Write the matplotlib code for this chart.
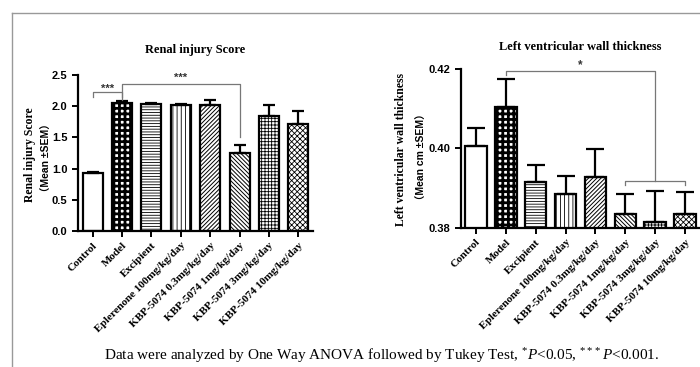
import matplotlib
matplotlib.use("Agg")
import matplotlib.pyplot as plt
from matplotlib.lines import Line2D
import numpy as np

plt.rcParams['mathtext.fontset'] = 'custom'
plt.rcParams['mathtext.rm'] = 'Liberation Serif'
plt.rcParams['mathtext.it'] = 'Liberation Serif:italic'

groups = ["Control", "Model", "Excipient", "Eplerenone 100mg/kg/day",
          "KBP-5074 0.3mg/kg/day", "KBP-5074 1mg/kg/day",
          "KBP-5074 3mg/kg/day", "KBP-5074 10mg/kg/day"]
renal_mean = [0.934, 2.056, 2.035, 2.02, 2.02, 1.255, 1.843, 1.715]
renal_sem = [0.018, 0.02, 0.015, 0.015, 0.08, 0.12, 0.18, 0.205]
lv_mean = [0.4007, 0.4104, 0.3915, 0.3885, 0.3929, 0.3835, 0.3815, 0.3835]
lv_sem = [0.0044, 0.0070, 0.0044, 0.0045, 0.0070, 0.0050, 0.0077, 0.0056]
hatches = [None, '+++', '------', '||||', '////////', '\\\\\\\\\\\\\\\\', '+++++', 'xxxxxx']
hatch_lw = [0.6, 2.0, 0.6, 0.6, 0.7, 0.7, 0.6, 0.6]
renal_ticks = [0.0, 0.5, 1.0, 1.5, 2.0, 2.5]
lv_ticks = [0.38, 0.40, 0.42]

W, H = 700, 367
fig = plt.figure(figsize=(7, 3.67), dpi=100)

def fx(px):
    return px / W

def fy(py):
    return 1 - py / H

serif = 'Liberation Serif'
sans = 'Liberation Sans'
gray = '#777777'

def draw_panel(ax, means, sems, width, capsize):
    x = np.arange(len(means))
    for i, (m, h) in enumerate(zip(means, hatches)):
        hl = hatch_lw[i]
        with plt.rc_context({'hatch.linewidth': hl}):
            b = ax.bar(x[i], m, width=width, facecolor='white', edgecolor='black',
                       linewidth=1.6, hatch=h, zorder=2)
        for p in b.patches:
            if hasattr(p, 'set_hatch_linewidth'):
                p.set_hatch_linewidth(hl)
    ax.errorbar(x, means, yerr=[np.zeros(len(sems)), sems], fmt='none',
                ecolor='black', elinewidth=1.6, capsize=capsize, capthick=1.6, zorder=3)
    ax.set_xlim(-0.5, 7.5)
    for s in ['top', 'right']:
        ax.spines[s].set_visible(False)
    for s in ['left', 'bottom']:
        ax.spines[s].set_linewidth(1.6)
    ax.tick_params(axis='both', width=1.4, length=4, direction='out')
    ax.set_xticks(x)
    ax.set_xticklabels(groups, rotation=45, ha='right', rotation_mode='anchor',
                       fontfamily=serif, fontweight='bold', fontsize=8)
    ax.tick_params(axis='x', pad=3)
    for lab in ax.get_yticklabels():
        lab.set_fontfamily(sans)
        lab.set_fontweight('bold')
        lab.set_fontsize(8)

# Left panel
ax1 = fig.add_axes([fx(78), fy(231), fx(313 - 78), (231 - 75) / H])
ax1.set_ylim(0, 2.5)
ax1.set_yticks(renal_ticks)
ax1.set_yticklabels([f"{t:.1f}" for t in renal_ticks])
draw_panel(ax1, renal_mean, renal_sem, 0.68, 4.5)
ax1.set_title("Renal injury Score", fontfamily=serif, fontweight='bold', fontsize=9, pad=16)
# brackets
ax1.plot([0, 0, 1, 1], [2.15, 2.22, 2.22, 2.15], color=gray, lw=0.9, clip_on=False, zorder=4)
ax1.text(0.5, 2.28, "***", ha='center', va='center', fontsize=8, color='#333333',
         fontfamily=sans, fontweight='bold')
ax1.plot([1, 1, 5, 5], [2.1, 2.35, 2.35, 1.5], color=gray, lw=0.9, clip_on=False, zorder=4)
ax1.text(3, 2.45, "***", ha='center', va='center', fontsize=8, color='#333333',
         fontfamily=sans, fontweight='bold')
fig.text(fx(30), fy(155), "Renal injury Score", rotation=90, ha='center', va='center',
         fontfamily=serif, fontweight='bold', fontsize=8.5)
fig.text(fx(47), fy(158), "（Mean ±SEM）", rotation=90, ha='center', va='center',
         family=[sans, 'Noto Sans CJK SC'], fontweight='bold', fontsize=7.5)

# Right panel
ax2 = fig.add_axes([fx(461), fy(227.7), fx(700 - 461), (227.7 - 69) / H])
ax2.set_ylim(0.38, 0.42)
ax2.set_yticks(lv_ticks)
ax2.set_yticklabels([f"{t:.2f}" for t in lv_ticks])
draw_panel(ax2, lv_mean, lv_sem, 0.72, 6.5)
ax2.set_title("Left ventricular wall thickness", fontfamily=serif, fontweight='bold',
              fontsize=9, pad=14)
ax2.plot([1, 1, 6, 6], [0.4186, 0.4196, 0.4196, 0.3918], color=gray, lw=0.9,
         clip_on=False, zorder=4)
ax2.plot([5, 5, 7, 7], [0.3908, 0.3918, 0.3918, 0.3908], color=gray, lw=0.9,
         clip_on=False, zorder=4)
ax2.text(3.5, 0.4209, "*", ha='center', va='center', fontsize=8.5, color='#333333',
         fontfamily=sans, fontweight='bold')
fig.text(fx(401), fy(149), "Left ventricular wall thickness", rotation=90, ha='center',
         va='center', fontfamily=serif, fontweight='bold', fontsize=8.5)
fig.text(fx(422), fy(157), "（Mean cm ±SEM）", rotation=90, ha='center', va='center',
         family=[sans, 'Noto Sans CJK SC'], fontweight='bold', fontsize=7.5)

# Footer
fig.text(fx(382), fy(356),
         r"Data were analyzed by One Way ANOVA followed by Tukey Test, $^{*}P$<0.05, $^{***}P$<0.001.",
         ha='center', va='center', fontfamily=serif, fontsize=11)

# Frame
fig.add_artist(Line2D([fx(11.5), fx(11.5)], [0, fy(12.5)], color='#999999', lw=1))
fig.add_artist(Line2D([fx(11.5), 1], [fy(12.5), fy(12.5)], color='#999999', lw=1))

fig.savefig("out.png", dpi=100)
